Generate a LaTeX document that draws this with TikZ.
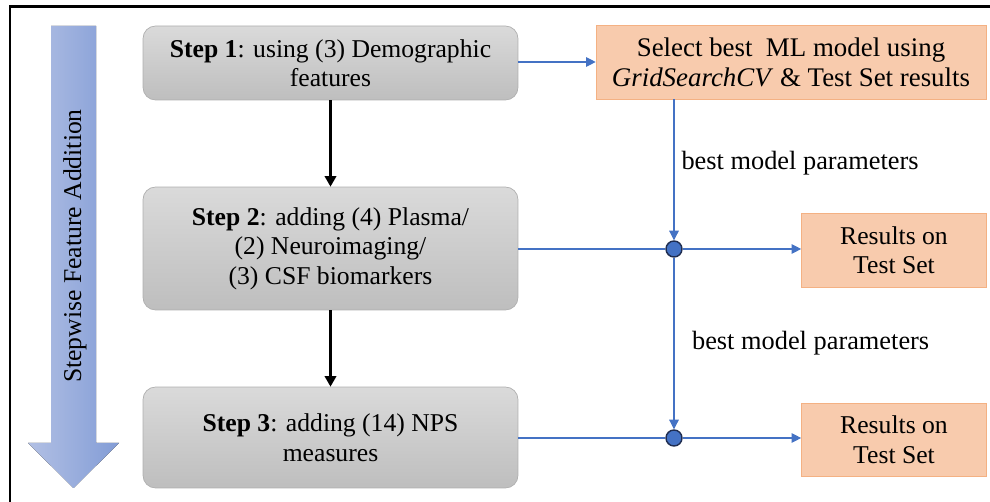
\documentclass[tikz,border=0pt]{standalone}
\usepackage{fontspec}
\setmainfont{Liberation Serif}
\usepackage{tikz}
\usetikzlibrary{shapes.geometric, arrows.meta}
\definecolor{linkblue}{RGB}{68,114,196}
\definecolor{dotrim}{RGB}{31,45,80}
\definecolor{boxtop}{RGB}{218,218,218}
\definecolor{boxbot}{RGB}{190,190,190}
\definecolor{boxrim}{RGB}{175,175,175}
\definecolor{peach}{RGB}{248,203,173}
\definecolor{peachrim}{RGB}{244,177,131}
\definecolor{arrleft}{RGB}{178,192,228}
\definecolor{arrright}{RGB}{130,156,214}
\tikzset{
  txt/.style={font=\fontsize{14.6}{16.8}\selectfont, align=center, inner sep=2pt},
  stepbox/.style={txt, rectangle, rounded corners=0.25cm, draw=boxrim,
    top color=boxtop, bottom color=boxbot, minimum width=7.5cm},
  resbox/.style={txt, rectangle, draw=peachrim, fill=peach},
  junc/.style={circle, draw=dotrim, thick, fill=linkblue, inner sep=0pt, minimum size=0.32cm},
  barr/.style={-{Triangle[length=5.5pt, width=5.5pt]}, draw=linkblue, fill=linkblue, line width=0.6pt},
  bline/.style={draw=linkblue, line width=0.6pt},
  karr/.style={-{Triangle[length=6pt, width=6.5pt]}, line width=1.3pt},
  lbl/.style={font=\fontsize{15}{17}\selectfont, inner sep=2pt},
}
\begin{document}
\begin{tikzpicture}[x=0.02cm, y=-0.02cm]
      \useasboundingbox (0,0) rectangle (990,502);
      \draw[line width=1.4pt] (10,6.5) rectangle (1010,530);
      % the big arrow at the left
      \fill[left color=arrleft, right color=arrright]
        (51,26) -- (96,26) -- (96,443) -- (119,443) -- (73.5,488)
        -- (28,443) -- (51,443) -- cycle;
      \node[txt, font=\fontsize{14.6}{16}\selectfont, rotate=90] (axis) at (75,246) {Stepwise Feature Addition};
      % the three steps
      \node[stepbox, minimum height=1.48cm] (step1) at (330.5,63)
        {\textbf{Step 1}: using (3) Demographic\\features};
      \node[stepbox, minimum height=2.46cm] (step2) at (330.5,248.5)
        {\textbf{Step 2}: adding (4) Plasma/\\(2) Neuroimaging/\\(3) CSF biomarkers};
      \node[stepbox, minimum height=2.02cm] (step3) at (330.5,437.5)
        {\textbf{Step 3}: adding (14) NPS\\measures};
      % model selection and results
      \node[resbox, font=\fontsize{15.3}{17}\selectfont, minimum width=7.8cm, minimum height=1.48cm] (sel) at (791,62)
        {Select best\ \ ML model using\\\textit{GridSearchCV} \& Test Set results};
      \node[resbox, minimum width=3.7cm, minimum height=1.48cm] (res1) at (894,250)
        {Results on\\Test Set};
      \node[resbox, minimum width=3.7cm, minimum height=1.46cm] (res2) at (894,439.5)
        {Results on\\Test Set};
      \node[junc] (j1) at (674,249) {};
      \node[junc] (j2) at (674,438) {};

      \draw[karr] (step1) -- (step2);
      \draw[karr] (step2) -- (step3);
      \draw[barr] (step1.east |- sel.west) -- (sel.west);
      \draw[barr] (j1 |- sel.south) -- node[lbl, pos=0.45, right=2pt] {best model parameters} (j1.north);
      \draw[barr] (j1.south) -- node[lbl, pos=0.5, right=8pt] {best model parameters} (j2.north);
      \draw[bline] (step2.east |- j1) -- (j1.west);
      \draw[barr] (j1.east) -- (res1.west |- j1);
      \draw[bline] (step3.east |- j2) -- (j2.west);
      \draw[barr] (j2.east) -- (res2.west |- j2);
    \end{tikzpicture}
\end{document}
